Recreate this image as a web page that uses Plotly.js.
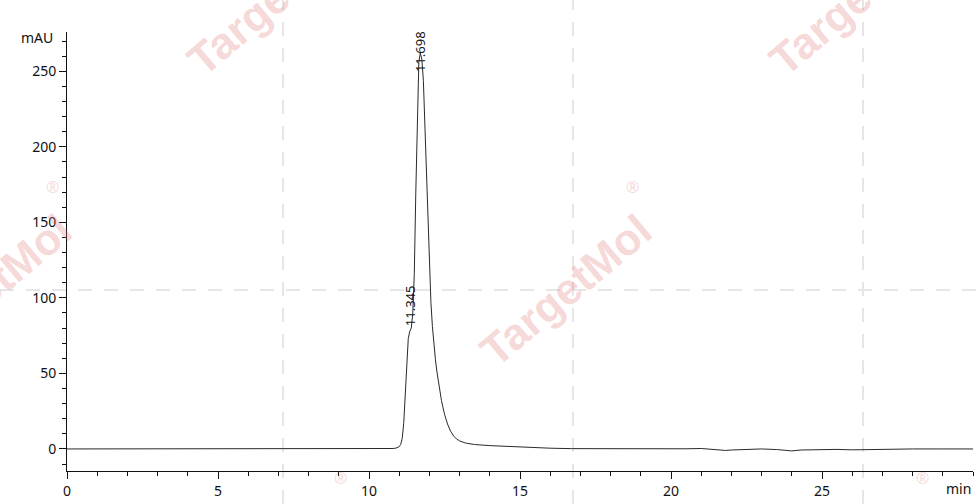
<!DOCTYPE html>
<html>
<head>
<meta charset="utf-8">
<script src="https://cdn.plot.ly/plotly-3.0.1.min.js"></script>
<style>
  html, body { margin: 0; padding: 0; background: #ffffff; }
  #chart { width: 976px; height: 504px; }
</style>
</head>
<body>
<div id="chart"></div>
<script>
  // Chromatogram trace
  var timeMin = [0, 1, 2, 3, 4, 5, 6, 7, 8, 9, 10, 10.5, 10.8, 10.9, 11.0, 11.05, 11.1, 11.15,
    11.2, 11.25, 11.3, 11.345, 11.4, 11.45, 11.5, 11.55, 11.6, 11.65, 11.698, 11.75, 11.8,
    11.85, 11.9, 11.95, 12.0, 12.05, 12.1, 12.15, 12.2, 12.25, 12.3, 12.4, 12.5, 12.6, 12.7, 12.8,
    12.9, 13.0, 13.2, 13.5, 14.0, 14.5, 15.0, 15.5, 16.0, 16.7, 17.5, 18.5, 19.5, 20.5, 21.0,
    21.5, 21.8, 22.0, 22.5, 23.0, 23.5, 24.0, 24.3, 25.0, 25.5, 26.0, 27.0, 28.0, 29.0, 30.0];
  var signalMAU = [0, 0, 0.1, 0, 0, -0.1, 0, 0.1, 0, 0, 0, 0.1, 0.3, 0.6, 1.5, 3, 7, 17,
    38, 60, 73, 77.5, 80, 90, 116, 170, 226, 256, 262, 258, 244,
    212, 181, 148, 117, 97, 81, 69, 59, 51, 44, 32, 23, 16.5, 11.8, 8.6,
    6.6, 5.3, 3.9, 2.9, 2.2, 1.7, 1.3, 0.9, 0.5, 0.2, 0.1, 0, 0, 0.1, 0.3,
    -0.6, -1.0, -0.7, -0.2, 0, -0.4, -1.3, -0.7, -0.2, -0.3, -0.6, -0.1, 0, 0, 0];

  // Peak labels
  var peakTimes = [11.345, 11.698];
  var peakLabelY = [80, 248];
  var peakLabels = ['11.345', '11.698'];

  // Watermark tiles (paper coords) and dashed guide positions
  var markX = [-0.0905, 0.5497, 0.2274, 0.8698, 0.2274, 0.8698];
  var markY = [0.4123, 0.4123, 1.0729, 1.0729, -0.2506, -0.2506];
  var guideX = [0.2384, 0.5585, 0.8786];
  var guideY = [0.4123];

  var FONT = 'Noto Sans, DejaVu Sans, sans-serif';
  var MARK_COLOR = 'rgba(226, 120, 120, 0.3)';

  function buildAnnotations() {
    var list = [];
    // watermark text, drawn first so the labels sit above it
    for (var i = 0; i < markX.length; i++) {
      list.push({
        xref: 'paper', yref: 'paper', x: markX[i], y: markY[i],
        xanchor: 'center', yanchor: 'middle',
        text: '<b>TargetMol</b>', showarrow: false, textangle: -40,
        font: { family: 'Liberation Sans, Arial, sans-serif', size: 44, color: MARK_COLOR }
      });
      // the registered mark only where it lands inside the picture
      if (markY[i] < 0.9) {
        list.push({
          xref: 'paper', yref: 'paper', xanchor: 'center', yanchor: 'middle',
          x: markX[i] + 67 / 906, y: markY[i] + 103 / 439,
          text: '®', showarrow: false,
          font: { family: FONT, size: 16, color: MARK_COLOR }
        });
      }
    }
    for (var j = 0; j < peakTimes.length; j++) {
      list.push({
        x: peakTimes[j], y: peakLabelY[j], text: peakLabels[j],
        showarrow: false, textangle: -90, xanchor: 'center', yanchor: 'bottom',
        font: { family: FONT, size: 13, color: '#111111' }
      });
    }
    // axis units
    list.push({
      xref: 'paper', yref: 'paper', x: -12 / 906, y: 1 - 6 / 439,
      text: 'mAU', showarrow: false, xanchor: 'right', yanchor: 'middle',
      font: { family: FONT, size: 14, color: '#111111' }
    });
    list.push({
      xref: 'paper', yref: 'paper', x: 1, y: -17 / 439,
      text: 'min', showarrow: false, xanchor: 'right', yanchor: 'middle',
      font: { family: FONT, size: 14, color: '#111111' }
    });
    return list;
  }

  function buildShapes() {
    var shapes = [];
    var line = { color: '#e6e6e6', width: 2, dash: '14px,12px' };
    guideX.forEach(function (gx) {
      shapes.push({ type: 'line', xref: 'paper', yref: 'paper', layer: 'below',
        x0: gx, x1: gx, y0: -33 / 439, y1: 1 + 32 / 439, line: line });
    });
    guideY.forEach(function (gy) {
      shapes.push({ type: 'line', xref: 'paper', yref: 'paper', layer: 'below',
        x0: -67 / 906, x1: 1 + 3 / 906, y0: gy, y1: gy, line: line });
    });
    return shapes;
  }

  var trace = {
    type: 'scatter',
    mode: 'lines',
    x: timeMin,
    y: signalMAU,
    line: { color: '#2a2a2a', width: 1 },
    hoverinfo: 'x+y'
  };

  var layout = {
    width: 976,
    height: 504,
    paper_bgcolor: '#ffffff',
    plot_bgcolor: 'rgba(0,0,0,0)',
    showlegend: false,
    margin: { l: 67, r: 3, t: 32, b: 33 },
    font: { family: FONT, size: 14, color: '#111111' },
    xaxis: {
      range: [0, 30],
      showgrid: false,
      zeroline: false,
      showline: true,
      linecolor: '#111111',
      linewidth: 1,
      ticks: 'outside',
      ticklen: 7,
      tickcolor: '#111111',
      tickvals: [0, 5, 10, 15, 20, 25],
      minor: { dtick: 1, ticks: 'outside', ticklen: 4, tickcolor: '#111111', showgrid: false },
      tickfont: { family: FONT, size: 14, color: '#111111' }
    },
    yaxis: {
      range: [-14.6, 276],
      showgrid: false,
      zeroline: false,
      showline: true,
      linecolor: '#111111',
      linewidth: 1,
      ticks: 'outside',
      ticklen: 7,
      tickcolor: '#111111',
      tickvals: [0, 50, 100, 150, 200, 250],
      minor: { dtick: 10, ticks: 'outside', ticklen: 4, tickcolor: '#111111', showgrid: false },
      tickfont: { family: FONT, size: 14, color: '#111111' }
    },
    shapes: buildShapes(),
    annotations: buildAnnotations()
  };

  Plotly.newPlot('chart', [trace], layout, { displayModeBar: false, staticPlot: true });
</script>
</body>
</html>
